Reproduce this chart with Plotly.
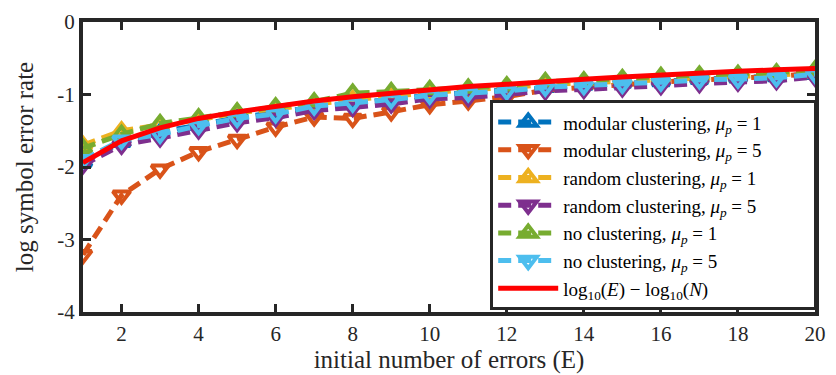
import plotly.graph_objects as go

E = list(range(1, 21))

modular_mu1 = [-1.93, -1.66, -1.52, -1.42, -1.32, -1.25, -1.17, -1.12, -1.06, -1.01,
               -0.97, -0.94, -0.90, -0.87, -0.84, -0.82, -0.79, -0.77, -0.75, -0.72]
modular_mu5 = [-3.21, -2.39, -2.03, -1.79, -1.62, -1.45, -1.31, -1.33, -1.24, -1.14,
               -1.09, -1.03, -0.94, -0.90, -0.86, -0.83, -0.80, -0.78, -0.75, -0.71]
random_mu1 = [-1.70, -1.50, -1.42, -1.35, -1.25, -1.20, -1.13, -1.07, -1.02, -0.98,
              -0.93, -0.91, -0.86, -0.84, -0.82, -0.79, -0.77, -0.75, -0.73, -0.70]
random_mu5 = [-1.97, -1.70, -1.60, -1.49, -1.39, -1.32, -1.22, -1.18, -1.13, -1.06,
              -1.04, -1.00, -0.95, -0.93, -0.91, -0.88, -0.85, -0.83, -0.81, -0.76]
none_mu1 = [-1.74, -1.55, -1.40, -1.32, -1.24, -1.17, -1.10, -0.98, -0.96, -0.93,
            -0.91, -0.88, -0.82, -0.81, -0.78, -0.75, -0.73, -0.72, -0.70, -0.66]
none_mu5 = [-1.90, -1.63, -1.55, -1.43, -1.33, -1.27, -1.16, -1.12, -1.07, -1.01,
            -0.98, -0.95, -0.90, -0.88, -0.86, -0.83, -0.80, -0.79, -0.77, -0.72]
log_ratio = [-1.94, -1.64, -1.46, -1.33, -1.24, -1.16, -1.09, -1.03, -0.98, -0.94,
             -0.89, -0.86, -0.82, -0.79, -0.76, -0.73, -0.71, -0.68, -0.66, -0.64]

x_ticks = [2, 4, 6, 8, 10, 12, 14, 16, 18, 20]
y_ticks = [0, -1, -2, -3, -4]
y_ticktext = ["0", "-1", "-2", "-3", "-4"]

FONT = "Liberation Serif"
AX = "#262626"
PAD = "&nbsp;" * 10

series = [
    ("modular clustering, <i>μ</i><sub><i>p</i></sub> = 1" + PAD, modular_mu1, "#0072BD", "triangle-up-open"),
    ("modular clustering, <i>μ</i><sub><i>p</i></sub> = 5", modular_mu5, "#D95319", "triangle-down-open"),
    ("random clustering, <i>μ</i><sub><i>p</i></sub> = 1", random_mu1, "#EDB120", "triangle-up-open"),
    ("random clustering, <i>μ</i><sub><i>p</i></sub> = 5", random_mu5, "#7E2F8E", "triangle-down-open"),
    ("no clustering, <i>μ</i><sub><i>p</i></sub> = 1", none_mu1, "#77AC30", "triangle-up-open"),
    ("no clustering, <i>μ</i><sub><i>p</i></sub> = 5", none_mu5, "#4DBEEE", "triangle-down-open"),
]

fig = go.Figure()
for name, vals, col, sym in series:
    fig.add_trace(go.Scatter(
        x=E, y=vals, name=name, mode="lines+markers",
        line=dict(color=col, width=5, dash="13px,7px"),
        marker=dict(symbol=sym, size=15, color=col, line=dict(color=col, width=4)),
    ))

fig.add_trace(go.Scatter(
    x=E, y=log_ratio, name="log<sub>10</sub>(<i>E</i>) − log<sub>10</sub>(<i>N</i>)",
    mode="lines", line=dict(color="#FF0000", width=5),
))

fig.update_layout(
    width=836, height=375,
    margin=dict(l=83, r=12, t=10, b=63),
    paper_bgcolor="white", plot_bgcolor="white",
    font=dict(family=FONT, size=20, color=AX),
    showlegend=True,
    legend=dict(
        x=1.003, y=0.006, xanchor="right", yanchor="bottom",
        bgcolor="white", bordercolor=AX, borderwidth=3,
        font=dict(family=FONT, size=19, color="black"),
        itemwidth=60, tracegroupgap=0,
    ),
)

fig.update_xaxes(
    range=[1, 20], tickvals=x_ticks, ticks="inside", ticklen=8, tickwidth=3,
    tickcolor=AX, showline=True, linewidth=4, linecolor=AX, mirror="ticks",
    showgrid=False, zeroline=False,
    tickfont=dict(family=FONT, size=21, color=AX),
    title=dict(text="initial number of errors (E)", font=dict(family=FONT, size=25, color=AX), standoff=0),
)
fig.update_yaxes(
    range=[-4, 0], tickvals=y_ticks, ticktext=y_ticktext, ticks="inside", ticklen=8, tickwidth=3,
    tickcolor=AX, showline=True, linewidth=4, linecolor=AX, mirror="ticks",
    showgrid=False, zeroline=False,
    tickfont=dict(family=FONT, size=21, color=AX),
    title=dict(text="log symbol error rate", font=dict(family=FONT, size=25, color=AX), standoff=18),
)

fig.write_html("out.html")
